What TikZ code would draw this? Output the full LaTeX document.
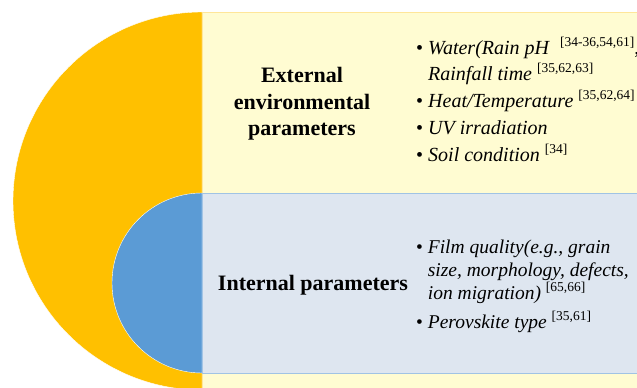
\documentclass[tikz,border=0pt]{standalone}
\usepackage{fontspec}
\setmainfont{Liberation Serif}
\usepackage{tikz}
\usetikzlibrary{positioning}
\definecolor{extclr}{RGB}{255,192,0}
\definecolor{extbg}{RGB}{255,252,210}
\definecolor{intclr}{RGB}{91,155,213}
\definecolor{intbg}{RGB}{222,230,240}
\definecolor{intline}{RGB}{160,195,228}
\tikzset{
  head/.style={align=center,font=\fontsize{22}{26.5}\selectfont\bfseries,inner sep=0pt},
  items/.style={align=left,anchor=north west,inner sep=0pt},
}
\newcommand{\refs}[1]{\raisebox{0.42em}{\upshape\fontsize{13.5}{13.5}\selectfont[#1]}}
\newcommand{\hang}{\phantom{\textbullet\ }}

\begin{document}
\begin{tikzpicture}[x=1pt,y=1pt]
\useasboundingbox (0,0) rectangle (637,388);
\clip (0,0) rectangle (637,388);
% outer ring: external parameters
\fill[extclr,draw=white,thin] (202,376) arc[start angle=90,end angle=270,radius=189] -- cycle;
\filldraw[fill=extbg,draw=extclr!40] (202,-10) rectangle (660,376);
% inner ring: internal parameters
\filldraw[fill=intbg,draw=intline] (202,15) rectangle (660,195);
\fill[intclr,draw=white,thin] (202,195) arc[start angle=90,end angle=270,radius=90] -- cycle;

\node[head] (exthead) at (302,284) {External\\environmental\\parameters};
\node[items,font=\fontsize{20}{26}\selectfont] (extlist) at (416,351)
  {\textbullet\ \textit{Water(Rain pH}\ \ \refs{34-36,54,61},\\
   \hang\textit{Rainfall time} \refs{35,62,63}\\[1pt]
   \textbullet\ \textit{Heat/Temperature} \refs{35,62,64}\\[1pt]
   \textbullet\ \textit{UV irradiation}\\[1pt]
   \textbullet\ \textit{Soil condition} \refs{34}};

\node[head] (inthead) at (313,103) {Internal parameters};
\node[items,font=\fontsize{19.5}{23}\selectfont] (intlist) at (416,148)
  {\textbullet\ \textit{Film quality(e.g., grain}\\
   \hang\textit{size, morphology, defects,}\\
   \hang\textit{ion migration)} \refs{65,66}\\[6pt]
   \textbullet\ \textit{Perovskite type} \refs{35,61}};
\end{tikzpicture}
\end{document}
